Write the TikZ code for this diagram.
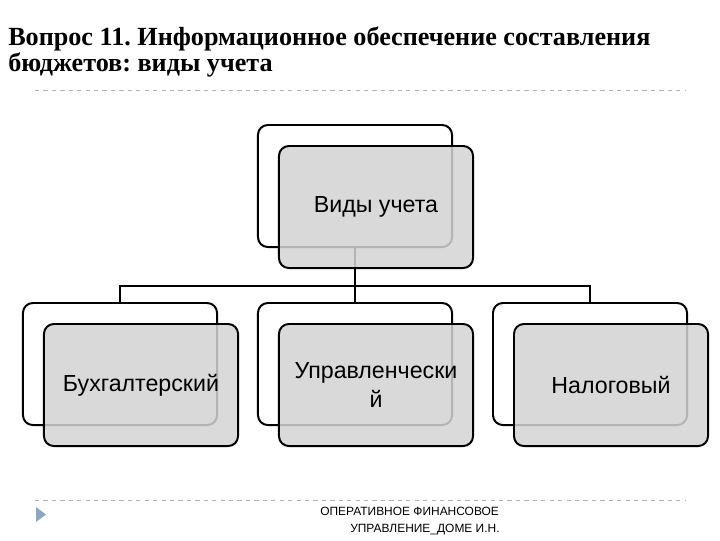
\documentclass[tikz,border=0pt]{standalone}
\usepackage{fontspec}
\setmainfont{Liberation Serif}
\newfontfamily\boxfont{Liberation Sans}
\definecolor{boxgray}{HTML}{D3D3D3}
\definecolor{markblue}{HTML}{8EA6C0}
\frenchspacing
\begin{document}
\begin{tikzpicture}[x=0.025cm, y=-0.025cm,
    backbox/.style={draw, line width=1.4pt, rounded corners=7pt, fill=white,
        minimum width=4.85cm, minimum height=3.05cm},
    frontbox/.style={draw, line width=1.4pt, rounded corners=7pt, fill=boxgray,
        fill opacity=0.85, text opacity=1, minimum width=4.85cm, minimum height=3.05cm,
        font=\boxfont\fontsize{16.5}{20}\selectfont, align=center},
    title/.style={anchor=base west, inner sep=0pt, font=\bfseries\fontsize{18.6}{22}\selectfont},
    footer/.style={anchor=base west, inner sep=0pt, font=\boxfont\fontsize{8.5}{10}\selectfont}]
    \useasboundingbox (0,0) rectangle (720,540);

    % Title
    \node[title] (t1) at (8,45) {Вопрос 11. Информационное обеспечение составления};
    \node[title] (t2) at (8,71) {бюджетов: виды учета};
    \draw[dashed, gray!60, line width=0.5pt] (35,90) -- (685,90);

    % Back boxes
    \node[backbox] (vback) at (355,186) {};
    \node[backbox] (bback) at (120,364) {};
    \node[backbox] (uback) at (355,364) {};
    \node[backbox] (nback) at (590,364) {};

    % Lines
    \coordinate (bus) at (355,286);
    \draw[line width=1.4pt] (vback.south) -- (bus);
    \draw[line width=1.4pt] (bus) -| (bback.north);
    \draw[line width=1.4pt] (bus) -| (nback.north);
    \draw[line width=1.4pt] (bus) -- (uback.north);

    % Front boxes
    \node[frontbox] (vid) at (376,207) {Виды учета};
    \node[frontbox] (buh) at (141,385) {Бухгалтерский};
    \node[frontbox] (upr) at (376,385) {Управленчески\\й};
    \node[frontbox] (nal) at (611,385) {Налоговый};

    % Footer
    \draw[dashed, gray!60, line width=0.5pt] (35,500) -- (685,500);
    \fill[markblue] (36,507) -- (46,514.5) -- (36,522) -- cycle;
    \node[footer] (f1) at (320,515) {ОПЕРАТИВНОЕ ФИНАНСОВОЕ};
    \node[footer] (f2) at (350,532) {УПРАВЛЕНИЕ\_ДОМЕ И.Н.};
\end{tikzpicture}
\end{document}
